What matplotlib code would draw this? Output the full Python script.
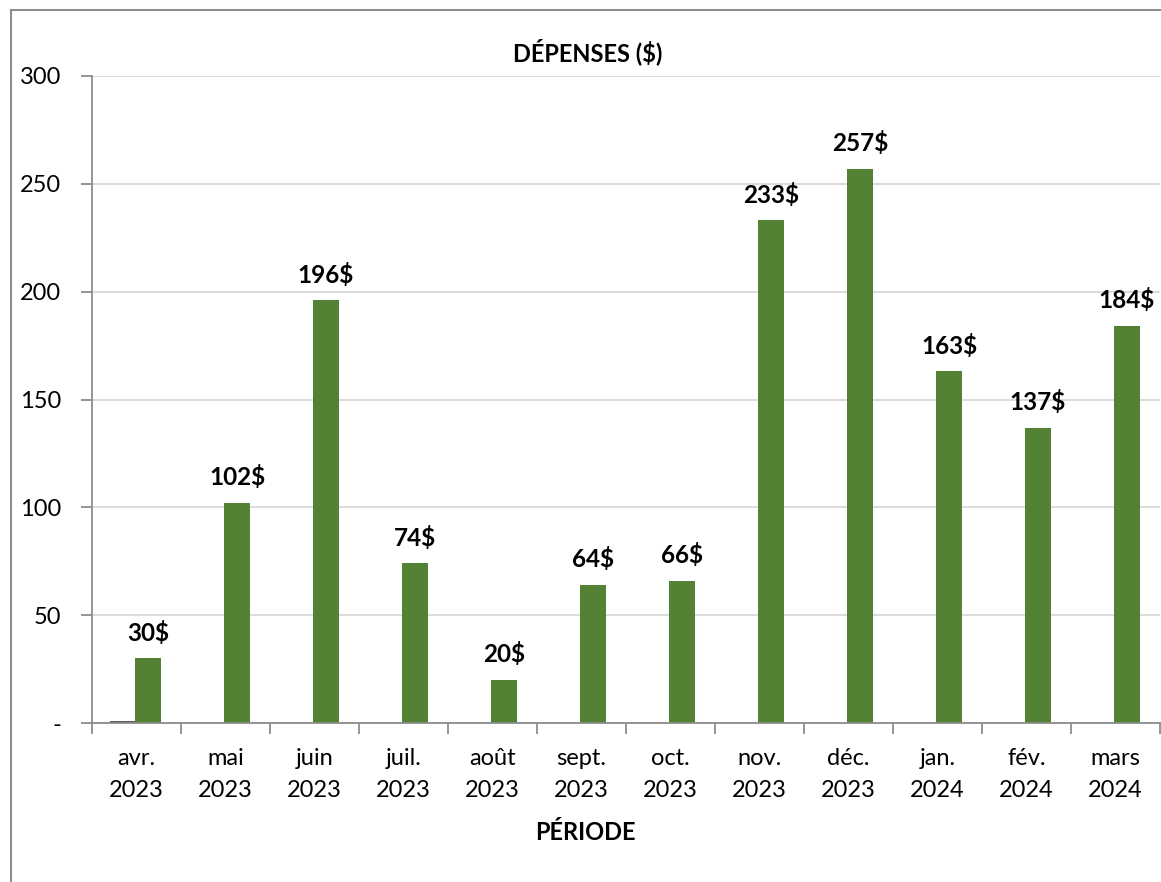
import matplotlib
matplotlib.use("Agg")
import matplotlib.pyplot as plt
from matplotlib.lines import Line2D
import numpy as np

categories = ["avr.\n2023", "mai\n2023", "juin\n2023", "juil.\n2023", "août\n2023",
              "sept.\n2023", "oct.\n2023", "nov.\n2023", "déc.\n2023", "jan.\n2024",
              "fév.\n2024", "mars\n2024"]
depenses = [30, 102, 196, 74, 20, 64, 66, 233, 257, 163, 137, 184]
autre = [0.7, 0, 0, 0, 0, 0, 0, 0, 0, 0, 0, 0]
y_ticks = [0, 50, 100, 150, 200, 250, 300]
y_tick_labels = ["-", "50", "100", "150", "200", "250", "300"]

plt.rcParams['font.family'] = ['Lato', 'DejaVu Sans']

W, H = 1161, 882
fig = plt.figure(figsize=(W / 100, H / 100), dpi=100)
ax = fig.add_axes([92 / W, 1 - 723 / H, (1160 - 92) / W, (723 - 76) / H])

green = "#548235"
axis_gray = "#8c8c8c"
x = np.arange(len(categories))
bw = 0.29
ax.bar(x - 0.15, autre, width=bw, color="#595959", zorder=3)
ax.bar(x + 0.13, depenses, width=bw, color=green, zorder=3)

for xi, v in zip(x, depenses):
    ax.annotate(f"{v}$", (xi + 0.13, v), xytext=(0, 18.5), textcoords="offset points",
                ha="center", va="center", fontsize=17.5, fontweight="bold", color="black")

ax.set_xlim(-0.5, len(categories) - 0.5)
ax.set_ylim(0, 300)
ax.set_yticks(y_ticks)
ax.set_yticklabels(y_tick_labels, fontsize=17)
ax.set_xticks(x)
ax.set_xticklabels(categories, fontsize=17, linespacing=1.65)
ax.set_xticks(np.arange(-0.5, len(categories) + 0.5, 1), minor=True)
ax.tick_params(axis="x", which="major", length=0, pad=18)
ax.tick_params(axis="x", which="minor", length=8, color=axis_gray, width=1.3, direction="out")
ax.tick_params(axis="y", length=8, color=axis_gray, width=1.3, direction="out", pad=14)

ax.grid(axis="y", color="#d9d9d9", linewidth=1.3, zorder=0)
for s in ["top", "right"]:
    ax.spines[s].set_visible(False)
ax.spines["left"].set_color(axis_gray)
ax.spines["left"].set_linewidth(1.3)
ax.spines["bottom"].set_color(axis_gray)
ax.spines["bottom"].set_linewidth(1.3)
ax.spines["bottom"].set_zorder(4)

fig.text(588 / W, 1 - 52 / H, "DÉPENSES ($)", ha="center", va="center",
         fontsize=17, fontweight="bold")
fig.text(585 / W, 1 - 832 / H, "PÉRIODE", ha="center", va="center",
         fontsize=17, fontweight="bold")

# outer chart frame
fig.add_artist(Line2D([11 / W, 11 / W], [0, 1 - 10 / H], color="#8c8c8c", linewidth=1.5))
fig.add_artist(Line2D([11 / W, 1], [1 - 10 / H, 1 - 10 / H], color="#8c8c8c", linewidth=1.5))

fig.savefig("out.png", dpi=100)
